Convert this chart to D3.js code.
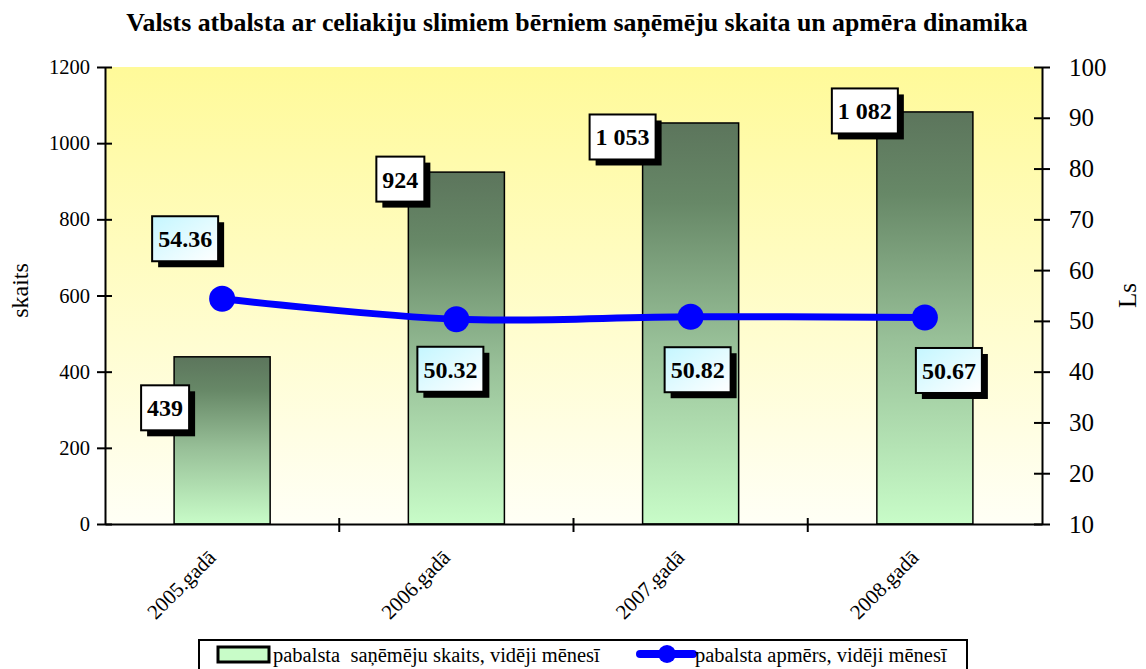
<!DOCTYPE html>
<html>
<head>
<meta charset="utf-8">
<script src="https://cdn.jsdelivr.net/npm/d3@7"></script>
<style>
  body { margin: 0; background: #fff; }
  svg, svg text { font-family: "Liberation Serif", "Times New Roman", serif; }
</style>
</head>
<body>
<div id="chart"></div>
<script>
// data
const years = ["2005.gadā", "2006.gadā", "2007.gadā", "2008.gadā"];
const recipients = [439, 924, 1053, 1082];      // bars, left axis
const amount = [54.36, 50.32, 50.82, 50.67];     // line, right axis
const leftTicks = [0, 200, 400, 600, 800, 1000, 1200];
const rightTicks = [10, 20, 30, 40, 50, 60, 70, 80, 90, 100];

// manual label nudges (the original labels were dragged around by hand)
const barLabelNudge = [[-9, 51], [-8, 7], [-20, 14], [-12, -1]];
const lineLabelNudge = [[-37, -60], [-6, 50], [7, 53], [24, 53]];

const FONT = '"Liberation Serif", "Times New Roman", serif';
const W = 1146, H = 669;
const m = { top: 67, right: 104, bottom: 145, left: 105 };
const iw = W - m.left - m.right;
const ih = H - m.top - m.bottom;

const svg = d3.select("#chart").append("svg")
  .attr("width", W).attr("height", H)
  .attr("font-family", FONT);

const defs = svg.append("defs");
const bg = defs.append("linearGradient").attr("id", "bg")
  .attr("x1", 0).attr("y1", 0).attr("x2", 0).attr("y2", 1);
bg.append("stop").attr("offset", "0%").attr("stop-color", "#fffa99");
bg.append("stop").attr("offset", "100%").attr("stop-color", "#fffff6");

const barGrad = defs.append("linearGradient").attr("id", "barGrad")
  .attr("x1", 0).attr("y1", 0).attr("x2", 0).attr("y2", 1);
barGrad.append("stop").attr("offset", "0%").attr("stop-color", "#5c755c");
barGrad.append("stop").attr("offset", "20%").attr("stop-color", "#678867");
barGrad.append("stop").attr("offset", "55%").attr("stop-color", "#98c098");
barGrad.append("stop").attr("offset", "100%").attr("stop-color", "#c8fcc8");

const cyan = defs.append("linearGradient").attr("id", "cyan")
  .attr("x1", 0).attr("y1", 0).attr("x2", 1).attr("y2", 1);
cyan.append("stop").attr("offset", "0%").attr("stop-color", "#c4f6ff");
cyan.append("stop").attr("offset", "100%").attr("stop-color", "#ffffff");

// title
svg.append("text")
  .attr("x", 577).attr("y", 31)
  .attr("text-anchor", "middle")
  .style("font-family", FONT)
  .style("font-size", "25.8px").style("font-weight", "bold")
  .text("Valsts atbalsta ar celiakiju slimiem bērniem saņēmēju skaita un apmēra dinamika");

const g = svg.append("g").attr("transform", `translate(${m.left},${m.top})`);

const x = d3.scaleBand().domain(years).range([0, iw])
  .paddingInner(0.59).paddingOuter(0.295);
const yL = d3.scaleLinear().domain([0, 1200]).range([ih, 0]);
const yR = d3.scaleLinear().domain([10, 100]).range([ih, 0]);

// plot area background
g.append("rect").attr("width", iw).attr("height", ih).attr("fill", "url(#bg)");

// bars
g.selectAll("rect.bar").data(recipients).enter().append("rect")
  .attr("class", "bar")
  .attr("x", (d, i) => x(years[i]))
  .attr("y", d => yL(d))
  .attr("width", x.bandwidth())
  .attr("height", d => ih - yL(d))
  .attr("fill", "url(#barGrad)")
  .attr("stroke", "#000").attr("stroke-width", 1.5);

// axes
const axL = g.append("g")
  .call(d3.axisLeft(yL).tickValues(leftTicks).tickFormat(d3.format("d")).tickSize(0).tickPadding(15));
axL.attr("font-family", FONT);
axL.select(".domain").attr("stroke-width", 2);
axL.selectAll(".tick line").attr("x1", -8).attr("x2", 7).attr("stroke-width", 2);
axL.selectAll("text").style("font-family", FONT).style("font-size", "20.5px").attr("fill", "#000");

const axR = g.append("g").attr("transform", `translate(${iw},0)`)
  .call(d3.axisRight(yR).tickValues(rightTicks).tickSize(0).tickPadding(27));
axR.attr("font-family", FONT);
axR.select(".domain").attr("stroke-width", 2);
axR.selectAll(".tick line").attr("x1", -8).attr("x2", 8).attr("stroke-width", 2);
axR.selectAll("text").style("font-family", FONT).style("font-size", "25px").attr("fill", "#000");

const axB = g.append("g").attr("transform", `translate(0,${ih})`)
  .call(d3.axisBottom(x).tickSize(0).tickFormat(""));
axB.select(".domain").attr("stroke-width", 2);
axB.selectAll(".tick").remove();
// category boundary ticks
const step = x.step();
const bounds = d3.range(1, years.length).map(i => i * step);
axB.selectAll("line.bt").data(bounds).enter().append("line")
  .attr("x1", d => d).attr("x2", d => d)
  .attr("y1", -6).attr("y2", 8)
  .attr("stroke", "#000").attr("stroke-width", 2);

// rotated category labels
g.selectAll("text.cat").data(years).enter().append("text")
  .attr("class", "cat")
  .attr("transform", d => `translate(${x(d) + x.bandwidth() / 2 - 5},${ih + 35}) rotate(-45)`)
  .attr("text-anchor", "end")
  .style("font-family", FONT)
  .style("font-size", "21px")
  .text(d => d);

// axis titles
svg.append("text")
  .attr("transform", `translate(28,${m.top + ih / 2 - 5}) rotate(-90)`)
  .attr("text-anchor", "middle").style("font-family", FONT).style("font-size", "24px").text("skaits");
svg.append("text")
  .attr("transform", `translate(1136,${m.top + ih / 2 + 0}) rotate(-90)`)
  .attr("text-anchor", "middle").style("font-family", FONT).style("font-size", "25px").text("Ls");

// line
const cx = i => x(years[i]) + x.bandwidth() / 2;
const line = d3.line().x((d, i) => cx(i)).y(d => yR(d)).curve(d3.curveCatmullRom.alpha(0.5));
g.append("path").datum(amount)
  .attr("d", line).attr("fill", "none")
  .attr("stroke", "#0000ff").attr("stroke-width", 7);
g.selectAll("circle.pt").data(amount).enter().append("circle")
  .attr("class", "pt")
  .attr("cx", (d, i) => cx(i)).attr("cy", d => yR(d)).attr("r", 13)
  .attr("fill", "#0000ff");

// boxed labels with drop shadow
function boxLabel(cxp, cyp, txt, fill) {
  const lg = g.append("g").attr("transform", `translate(${cxp},${cyp})`);
  const t = lg.append("text").attr("text-anchor", "middle").attr("dy", "0.35em")
    .style("font-family", FONT)
    .style("font-size", "24px").style("font-weight", "bold").text(txt);
  const bw = t.node().getComputedTextLength() + 12, bh = 45;
  lg.insert("rect", "text").attr("x", -bw / 2 + 6).attr("y", -bh / 2 + 6)
    .attr("width", bw).attr("height", bh).attr("fill", "#000");
  lg.insert("rect", "text").attr("x", -bw / 2).attr("y", -bh / 2)
    .attr("width", bw).attr("height", bh).attr("fill", fill)
    .attr("stroke", "#000").attr("stroke-width", 2);
}
const fmtThousands = d => d >= 1000 ? d3.format(",")(d).replace(",", " ") : String(d);
recipients.forEach((d, i) => {
  boxLabel(x(years[i]) + barLabelNudge[i][0], yL(d) + barLabelNudge[i][1], fmtThousands(d), "#fff");
});
amount.forEach((d, i) => {
  boxLabel(cx(i) + lineLabelNudge[i][0], yR(d) + lineLabelNudge[i][1], d.toFixed(2), "url(#cyan)");
});

// legend
const lgd = svg.append("g");
lgd.append("rect").attr("x", 199).attr("y", 640).attr("width", 768).attr("height", 40)
  .attr("fill", "#fff").attr("stroke", "#000").attr("stroke-width", 2);
lgd.append("rect").attr("x", 218).attr("y", 647).attr("width", 51).attr("height", 15)
  .attr("fill", "#c8fcc8").attr("stroke", "#000").attr("stroke-width", 3);
lgd.append("text").attr("x", 273).attr("y", 662)
  .style("font-family", FONT).style("font-size", "20.5px")
  .attr("xml:space", "preserve").style("white-space", "pre")
  .text("pabalsta  saņēmēju skaits, vidēji mēnesī");
lgd.append("line").attr("x1", 640).attr("x2", 693).attr("y1", 654).attr("y2", 654)
  .attr("stroke", "#0000ff").attr("stroke-width", 8).attr("stroke-linecap", "round");
lgd.append("circle").attr("cx", 667).attr("cy", 654).attr("r", 9).attr("fill", "#0000ff");
lgd.append("text").attr("x", 695).attr("y", 662)
  .style("font-family", FONT).style("font-size", "20.5px")
  .text("pabalsta apmērs, vidēji mēnesī");
</script>
</body>
</html>
